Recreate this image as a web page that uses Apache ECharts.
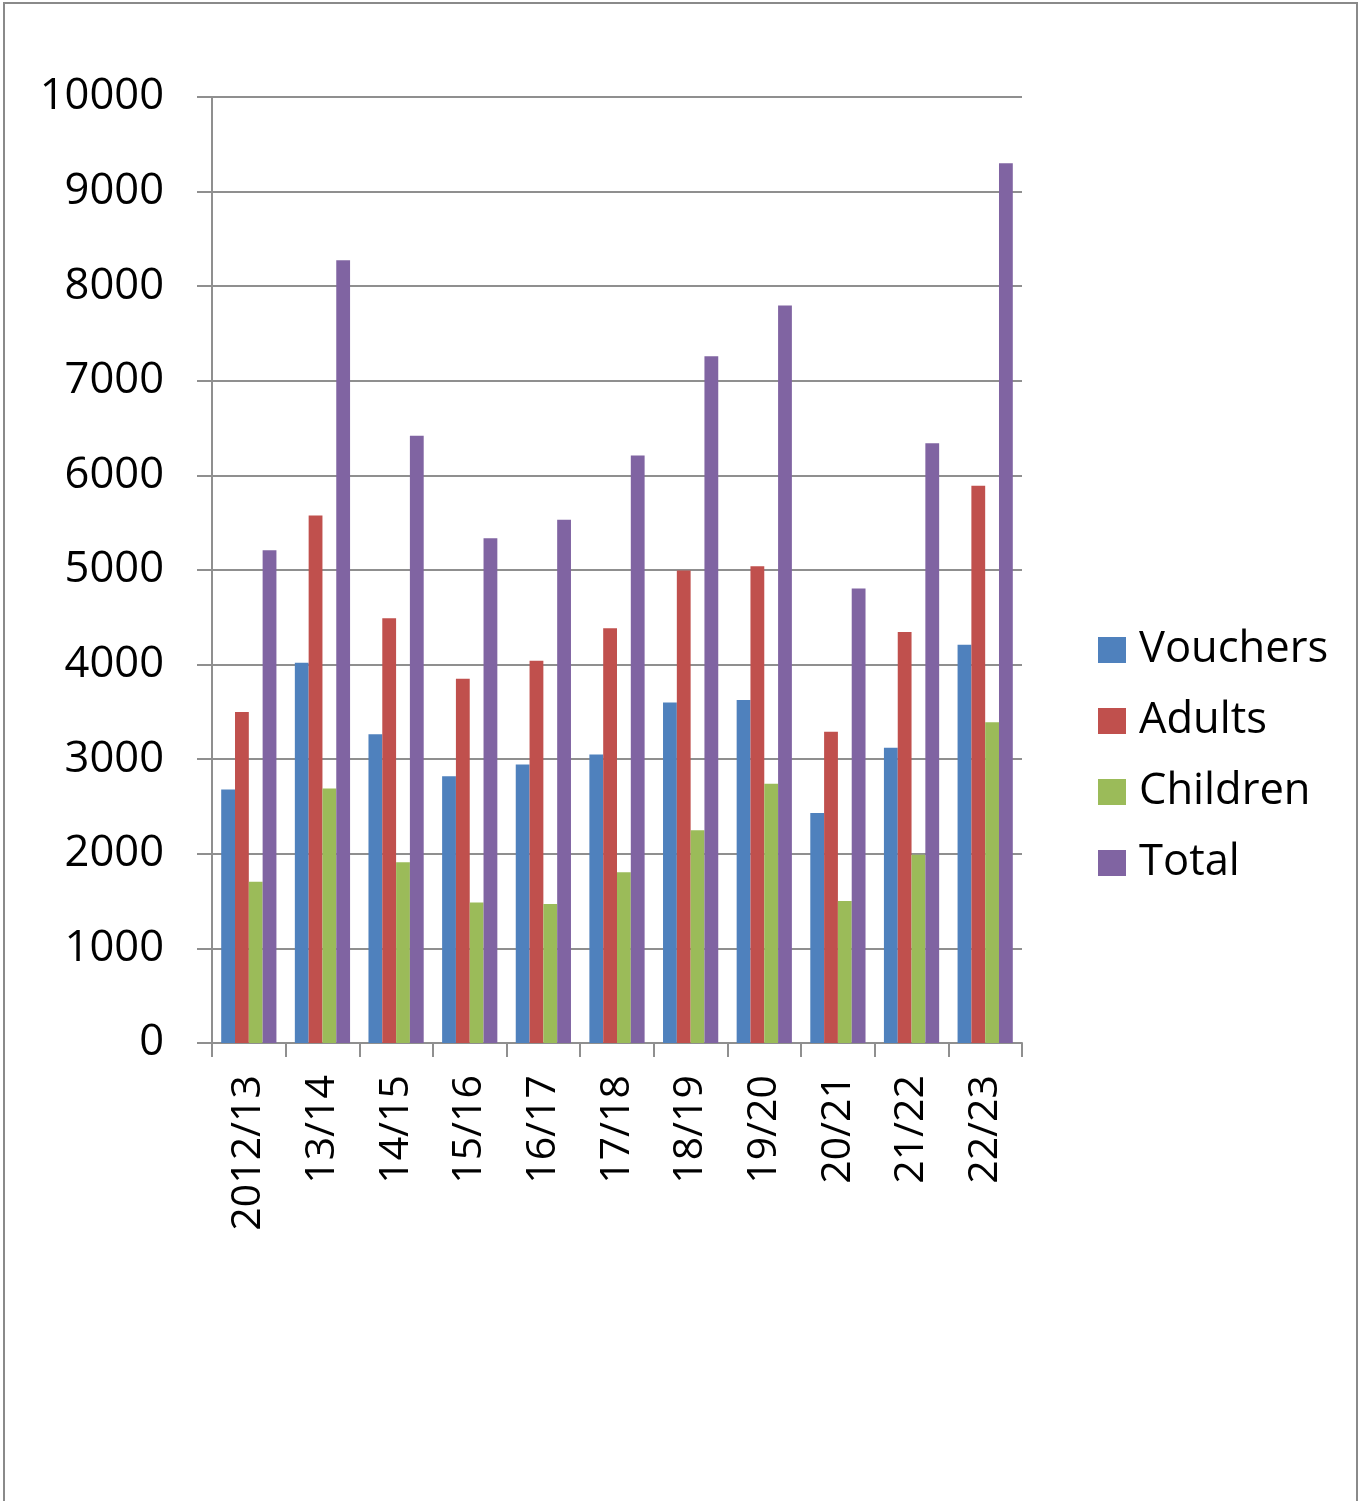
<!DOCTYPE html>
<html>
<head>
<meta charset="utf-8">
<script src="https://cdn.jsdelivr.net/npm/echarts@6/dist/echarts.min.js"></script>
<style>
  html, body { margin: 0; padding: 0; background: #fff; }
  #chart { width: 1364px; height: 1501px; }
</style>
</head>
<body>
<div id="chart"></div>
<script>
// Financial years shown along the x axis
const years = ['2012/13', '13/14', '14/15', '15/16', '16/17', '17/18', '18/19', '19/20', '20/21', '21/22', '22/23'];

// Yearly counts per series
const vouchers = [2680, 4020, 3265, 2820, 2945, 3050, 3600, 3625, 2430, 3120, 4210];
const adults   = [3500, 5575, 4490, 3850, 4040, 4385, 4995, 5040, 3290, 4345, 5890];
const children = [1705, 2690, 1910, 1485, 1470, 1805, 2250, 2740, 1500, 1990, 3390];
const totals   = [5210, 8275, 6420, 5335, 5530, 6210, 7260, 7795, 4805, 6340, 9300];

const seriesNames = ['Vouchers', 'Adults', 'Children', 'Total'];
const seriesColors = ['#4F81BD', '#C0504D', '#9BBB59', '#8064A2'];
const seriesData = [vouchers, adults, children, totals];

const FONT = '"Open Sans", "Liberation Sans", sans-serif';
const GRID_GRAY = '#8f8f8f';

const chart = echarts.init(document.getElementById('chart'), null, { renderer: 'canvas' });

chart.setOption({
  animation: false,
  backgroundColor: '#ffffff',
  textStyle: { fontFamily: FONT },
  graphic: [{
    type: 'rect',
    shape: { x: 4, y: 3, width: 1353, height: 1520 },
    style: { fill: 'none', stroke: '#8a8a8a', lineWidth: 2 },
    silent: true
  }],
  grid: { left: 212, right: 342, top: 97, bottom: 458, containLabel: false },
  legend: {
    orient: 'vertical',
    left: 1093,
    top: 623,
    itemWidth: 28,
    itemHeight: 26,
    itemGap: 27,
    icon: 'rect',
    data: seriesNames,
    textStyle: {
      fontFamily: FONT,
      fontSize: 43.5,
      lineHeight: 41,
      color: '#000',
      padding: [0, 0, 0, 8]
    }
  },
  xAxis: {
    type: 'category',
    data: years,
    axisLine: { lineStyle: { color: GRID_GRAY, width: 2 } },
    axisTick: { show: true, length: 14, alignWithLabel: false, lineStyle: { color: GRID_GRAY, width: 2 } },
    axisLabel: {
      rotate: 90,
      margin: 32,
      interval: 0,
      fontFamily: FONT,
      fontSize: 41,
      color: '#000'
    }
  },
  yAxis: {
    type: 'value',
    min: 0,
    max: 10000,
    interval: 1000,
    axisLine: { show: true, lineStyle: { color: GRID_GRAY, width: 2 } },
    axisTick: { show: true, length: 15, lineStyle: { color: GRID_GRAY, width: 2 } },
    splitLine: { show: true, lineStyle: { color: GRID_GRAY, width: 2 } },
    axisLabel: {
      margin: 48,
      fontFamily: FONT,
      fontSize: 43.5,
      color: '#000',
      padding: [4, 0, 0, 0],
      formatter: (v) => String(v)
    }
  },
  series: seriesNames.map((name, i) => ({
    name: name,
    type: 'bar',
    data: seriesData[i],
    barGap: '0%',
    barCategoryGap: '25%',
    itemStyle: { color: seriesColors[i] }
  }))
});
</script>
</body>
</html>
